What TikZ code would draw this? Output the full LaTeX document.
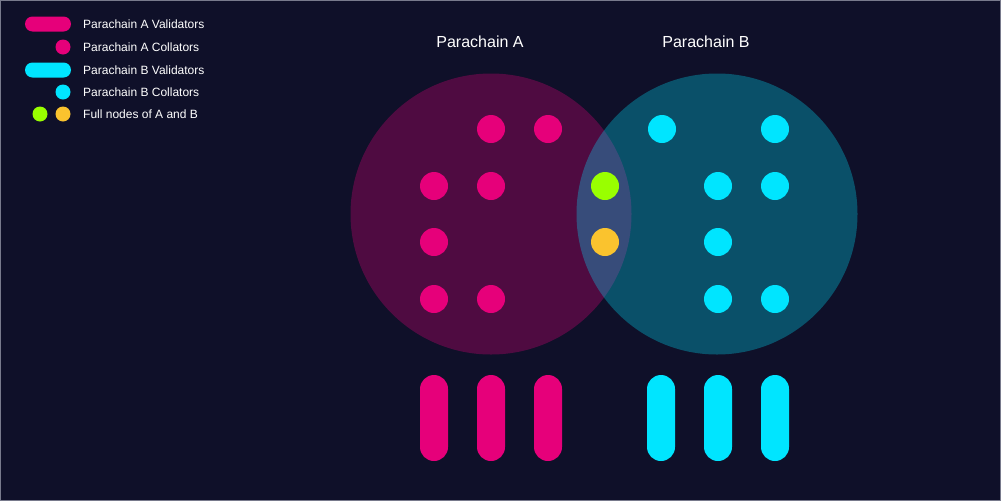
\documentclass[tikz,border=0pt]{standalone}
\usepackage{fontspec}
\setmainfont{Liberation Sans}
\definecolor{pcBack}{RGB}{15, 16, 41}
\definecolor{pcPink}{RGB}{230, 0, 122}
\definecolor{pcCyan}{RGB}{0, 229, 255}
\definecolor{pcLime}{RGB}{153, 255, 0}
\definecolor{pcGold}{RGB}{250, 195, 46}
\definecolor{pcFrame}{RGB}{120, 122, 140}
\usetikzlibrary{positioning}
\tikzset{
  chainzone/.style={circle, fill=#1, fill opacity=0.3, minimum size=281pt, inner sep=0pt},
  dotnode/.style={circle, fill=#1, minimum size=28pt, inner sep=0pt},
  dotnode/.default=pcPink,
  keydot/.style={circle, fill=#1, minimum size=15pt, inner sep=0pt},
  validbar/.style={rectangle, rounded corners=14pt, fill=#1, minimum width=28pt, minimum height=86pt, inner sep=0pt},
  keybar/.style={rectangle, rounded corners=7.5pt, fill=#1, minimum width=46pt, minimum height=15pt, inner sep=0pt},
  keytext/.style={anchor=west, text=white, font=\fontsize{12}{14}\selectfont, inner sep=0pt},
  chaintitle/.style={text=white, font=\fontsize{16}{18}\selectfont, inner sep=0pt},
}

\begin{document}
\begin{tikzpicture}[x=1pt, y=-1pt]
  \fill[pcBack] (0, 0) rectangle (1001, 501);
  \draw[pcFrame, line width=0.8pt] (0.4, 0.4) rectangle (1000.6, 500.6);
  \useasboundingbox (0, 0) rectangle (1001, 501);

  % legend
  \node[keybar=pcPink] (keyAval) at (48, 24) {};
  \node[keydot=pcPink] (keyAcol) at (63, 47) {};
  \node[keybar=pcCyan] (keyBval) at (48, 70) {};
  \node[keydot=pcCyan] (keyBcol) at (63, 92) {};
  \node[keydot=pcLime] (keyFullA) at (40, 114) {};
  \node[keydot=pcGold] (keyFullB) at (63, 114) {};
  \node[keytext] (txtAval) at (83, 24) {Parachain A Validators};
  \node[keytext] (txtAcol) at (83, 47) {Parachain A Collators};
  \node[keytext] (txtBval) at (83, 70) {Parachain B Validators};
  \node[keytext] (txtBcol) at (83, 92) {Parachain B Collators};
  \node[keytext] (txtFull) at (83, 114) {Full nodes of A and B};

  % parachain zones
  \node[chainzone=pcPink] (zoneA) at (491, 214) {};
  \node[chainzone=pcCyan] (zoneB) at (717, 214) {};
  \node[chaintitle] (titleA) at (480, 42) {Parachain A};
  \node[chaintitle] (titleB) at (706, 42) {Parachain B};

  % collators of A
  \node[dotnode] (colA1) at (491, 129) {};
  \node[dotnode] (colA2) at (548, 129) {};
  \node[dotnode] (colA3) at (434, 186) {};
  \node[dotnode] (colA4) at (491, 186) {};
  \node[dotnode] (colA5) at (434, 242) {};
  \node[dotnode] (colA6) at (434, 299) {};
  \node[dotnode] (colA7) at (491, 299) {};

  % collators of B
  \node[dotnode=pcCyan] (colB1) at (662, 129) {};
  \node[dotnode=pcCyan] (colB2) at (775, 129) {};
  \node[dotnode=pcCyan] (colB3) at (718, 186) {};
  \node[dotnode=pcCyan] (colB4) at (775, 186) {};
  \node[dotnode=pcCyan] (colB5) at (718, 242) {};
  \node[dotnode=pcCyan] (colB6) at (718, 299) {};
  \node[dotnode=pcCyan] (colB7) at (775, 299) {};

  % full nodes
  \node[dotnode=pcLime] (fullA) at (605, 186) {};
  \node[dotnode=pcGold] (fullB) at (605, 242) {};

  % validators
  \node[validbar=pcPink] (valA1) at (434, 418) {};
  \node[validbar=pcPink] (valA2) at (491, 418) {};
  \node[validbar=pcPink] (valA3) at (548, 418) {};
  \node[validbar=pcCyan] (valB1) at (661, 418) {};
  \node[validbar=pcCyan] (valB2) at (718, 418) {};
  \node[validbar=pcCyan] (valB3) at (775, 418) {};
\end{tikzpicture}
\end{document}
